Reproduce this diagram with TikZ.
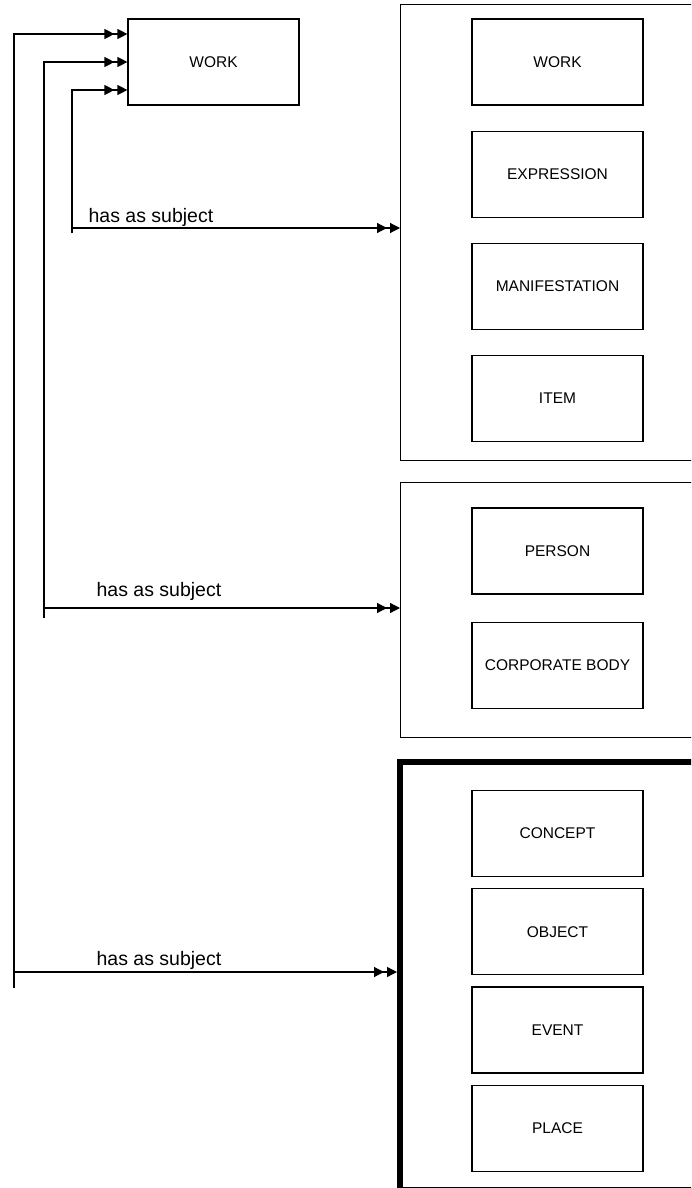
\documentclass[tikz,border=0pt]{standalone}
\usepackage{fontspec}
\setmainfont{Liberation Sans}
\usetikzlibrary{arrows.meta,positioning}

\begin{document}
\begin{tikzpicture}[x=1pt, y=-1pt,
      line width=1.2pt,
      entity/.style = {shape=rectangle, draw, align=center,
        minimum width=171pt, minimum height=86pt,
        font=\fontsize{15.5}{18}\selectfont
      },
      group/.style = {shape=rectangle, draw, anchor=north west,
        minimum width=330pt
      },
      dbl/.style = {-{Triangle[length=10pt,width=10pt,sep=3pt]Triangle[length=10pt,width=10pt]}},
      texto/.style = {anchor=base west, inner sep=0pt, font=\fontsize{19.5}{22}\selectfont}
    ]
    \useasboundingbox (0,0) rectangle (691,1188);
    \clip (0,0) rectangle (691,1188);

    % grupos
    \node[group, minimum height=456pt] (g1) at (400,4) {};
    \node[group, minimum height=255pt] (g2) at (400,482) {};
    \node[group, minimum height=428pt, line width=6pt] (g3) at (397,759) {};

    % grupo 1
    \node[entity] (wk2) at (557.5,62) {WORK};
    \node[entity, below=25pt of wk2] (expr) {EXPRESSION};
    \node[entity, below=25pt of expr] (man) {MANIFESTATION};
    \node[entity, below=25pt of man] (item) {ITEM};

    % grupo 2
    \node[entity] (pers) at (557.5,551) {PERSON};
    \node[entity, below=27pt of pers] (corp) {CORPORATE BODY};

    % grupo 3
    \node[entity] (conc) at (557.5,833.5) {CONCEPT};
    \node[entity, below=11pt of conc] (obj) {OBJECT};
    \node[entity, below=11pt of obj] (evt) {EVENT};
    \node[entity, below=11pt of evt] (plc) {PLACE};

    % obra
    \node[entity] (wk) at (213.5,62) {WORK};

    % lineas hacia la obra
    \coordinate (p1) at (14,988);
    \coordinate (p2) at (44,618);
    \coordinate (p3) at (72,233);
    \draw[dbl] (p1) |- ([yshift=28pt]wk.west);
    \draw[dbl] (p2) |- (wk.west);
    \draw[dbl] (p3) |- ([yshift=-28pt]wk.west);

    % ramas hacia los grupos
    \coordinate (q1) at (14,972);
    \coordinate (q2) at (44,608);
    \coordinate (q3) at (72,228);
    \draw[dbl] (q1) -- (q1 -| g3.west);
    \draw[dbl] (q2) -- (q2 -| g2.west);
    \draw[dbl] (q3) -- (q3 -| g1.west);

    \node[texto] (t3) at (88,222) {has as subject};
    \node[texto] (t2) at (96,596) {has as subject};
    \node[texto] (t1) at (96,965) {has as subject};
\end{tikzpicture}
\end{document}
